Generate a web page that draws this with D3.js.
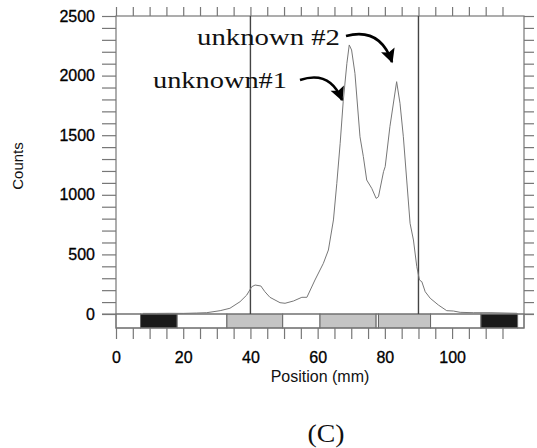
<!DOCTYPE html>
<html>
<head>
<meta charset="utf-8">
<script src="https://cdn.jsdelivr.net/npm/d3@7"></script>
<style>
  body { margin: 0; background: #fff; }
  svg { display: block; }
</style>
</head>
<body>
<div id="chart"></div>
<script>
// Data
const position = [8, 12, 16, 20, 24, 27, 31, 33.9, 36.9, 38.9, 40.4, 41.4, 43.1, 44.3, 45.8, 48.8, 50.3,
  52.8, 55.3, 56.8, 59.2, 61.7, 63.2, 64.7, 65.7, 66.7, 67.6, 68.7, 69.4, 70.1, 71.1, 72.6, 73.6,
  74.6, 76.1, 77.4, 78.1, 79.6, 80.1, 81.5, 83.5, 84.5, 85.5, 86.5, 87.5, 88.5, 89.5, 90.3, 91,
  92, 93.5, 95.9, 98.4, 100.4, 102.4, 106.3, 111.3, 119.3]
const counts = [5, 5, 6, 5, 8, 11, 28, 48, 103, 159, 229, 243, 235, 187, 140, 95, 90,
  109, 140, 140, 285, 425, 537, 789, 1096, 1432, 1781, 2103, 2257, 2215, 2019, 1487, 1320,
  1124, 1054, 970, 984, 1194, 1236, 1571, 1949, 1768, 1487, 1124, 761, 621, 397, 285, 271,
  187, 132, 76, 28, 25, 14, 11, 11, 6]

// strip below the zero line
const stripStart = [0, 7.3, 18.2, 33, 49.6, 60.7, 77.4, 78.1, 93.6, 108.6, 119.5]
const stripEnd = [7.3, 18.2, 33, 49.6, 60.7, 77.4, 78.1, 93.6, 108.6, 119.5, 121.4]
const stripKind = ["white", "black", "white", "gray", "white", "gray", "white", "gray", "white", "black", "white"]

const markers = [40, 90]
const xTickLabels = [0, 20, 40, 60, 80, 100]
const yTickLabels = [0, 500, 1000, 1500, 2000, 2500]

const width = 537, height = 448
const m = { left: 116, right: 524, top: 16, bottom: 328 }

const svg = d3.select("#chart").append("svg")
  .attr("width", width)
  .attr("height", height)

const x = d3.scaleLinear().domain([0, 121.4]).range([m.left, m.right])
const y = d3.scaleLinear().domain([0, 2500]).range([314, m.top])

const tickColor = "#777"
const sans = "'Liberation Sans', Arial, sans-serif"
const serif = "'Liberation Serif', 'Times New Roman', serif"

// strip
const fills = { white: "#fff", black: "#1a1a1a", gray: "#c4c4c4" }
svg.append("g")
  .selectAll("rect")
  .data(stripKind)
  .join("rect")
  .attr("x", (d, i) => x(stripStart[i]))
  .attr("width", (d, i) => x(stripEnd[i]) - x(stripStart[i]))
  .attr("y", y(0))
  .attr("height", m.bottom - y(0))
  .attr("fill", d => fills[d])
  .attr("stroke", "#666")
  .attr("stroke-width", 1)

// axes
const minorY = d3.range(0, 2501, 100)
const minorX = d3.range(0, 116, 5)

const leftAxis = d3.axisLeft(y).tickValues(minorY).tickSize(14).tickPadding(7)
  .tickFormat(d => yTickLabels.includes(d) ? d : "")
const gl = svg.append("g").attr("transform", `translate(${m.left},0)`).call(leftAxis)

const rightAxis = d3.axisRight(y).tickValues(minorY).tickSize(10).tickFormat("")
const gr = svg.append("g").attr("transform", `translate(${m.right},0)`).call(rightAxis)

const topAxis = d3.axisTop(x).tickValues(minorX).tickSize(9).tickFormat("")
const gt = svg.append("g").attr("transform", `translate(0,${m.top})`).call(topAxis)

const bottomAxis = d3.axisBottom(x).tickValues(minorX).tickSize(11).tickPadding(13)
  .tickFormat(d => xTickLabels.includes(d) ? d : "")
const gb = svg.append("g").attr("transform", `translate(0,${m.bottom})`).call(bottomAxis)

for (const g of [gl, gr, gt, gb]) {
  g.select(".domain").remove()
  g.selectAll(".tick line").attr("stroke", tickColor).attr("stroke-width", 1.2)
  g.selectAll("text").attr("font-family", sans).attr("font-size", 16).attr("fill", "#000")
    .attr("stroke", "#000").attr("stroke-width", 0.3)
}

// frame
svg.append("rect")
  .attr("x", m.left).attr("y", m.top)
  .attr("width", m.right - m.left).attr("height", m.bottom - m.top)
  .attr("fill", "none")
  .attr("stroke", tickColor)
  .attr("stroke-width", 1.2)

// zero line across
svg.append("line")
  .attr("x1", m.left - 14).attr("x2", m.right + 10)
  .attr("y1", y(0)).attr("y2", y(0))
  .attr("stroke", tickColor).attr("stroke-width", 1.2)

// marker lines
svg.append("g")
  .selectAll("line")
  .data(markers)
  .join("line")
  .attr("x1", d => x(d)).attr("x2", d => x(d))
  .attr("y1", m.top).attr("y2", y(0))
  .attr("stroke", "#444")
  .attr("stroke-width", 1.4)

// curve
const line = d3.line()
  .x((d, i) => x(position[i]))
  .y(d => y(d))
svg.append("path")
  .datum(counts)
  .attr("d", line)
  .attr("fill", "none")
  .attr("stroke", "#777")
  .attr("stroke-width", 1)

// axis titles
svg.append("text")
  .attr("transform", "translate(23,166) rotate(-90)")
  .attr("text-anchor", "middle")
  .attr("font-family", sans)
  .attr("font-size", 15)
  .attr("fill", "#111")
  .text("Counts")

svg.append("text")
  .attr("x", 320).attr("y", 382)
  .attr("text-anchor", "middle")
  .attr("font-family", sans)
  .attr("font-size", 16)
  .attr("fill", "#111")
  .text("Position (mm)")

// annotations
svg.append("defs").append("marker")
  .attr("id", "head")
  .attr("viewBox", "0 0 10 10")
  .attr("refX", 9).attr("refY", 5)
  .attr("markerWidth", 6).attr("markerHeight", 5.5)
  .attr("markerUnits", "strokeWidth")
  .attr("orient", "auto")
  .append("path")
  .attr("d", "M0,0 L10,5 L0,10 L2,5 Z")
  .attr("fill", "#000")

svg.append("text")
  .attr("x", 197).attr("y", 45)
  .attr("font-family", serif)
  .attr("font-size", 24)
  .attr("textLength", 143)
  .attr("lengthAdjust", "spacingAndGlyphs")
  .attr("fill", "#111")
  .text("unknown #2")

svg.append("text")
  .attr("x", 153).attr("y", 88)
  .attr("font-family", serif)
  .attr("font-size", 24)
  .attr("textLength", 134)
  .attr("lengthAdjust", "spacingAndGlyphs")
  .attr("fill", "#111")
  .text("unknown#1")

svg.append("path")
  .attr("d", "M300,80 Q330,70 342,100")
  .attr("fill", "none").attr("stroke", "#000").attr("stroke-width", 2.6)
  .attr("marker-end", "url(#head)")

svg.append("path")
  .attr("d", "M346,36 Q380,27 392,62")
  .attr("fill", "none").attr("stroke", "#000").attr("stroke-width", 2.6)
  .attr("marker-end", "url(#head)")

svg.append("text")
  .attr("x", 326).attr("y", 442)
  .attr("text-anchor", "middle")
  .attr("font-family", serif)
  .attr("font-size", 26)
  .attr("textLength", 37)
  .attr("lengthAdjust", "spacingAndGlyphs")
  .attr("fill", "#111")
  .text("(C)")
</script>
</body>
</html>
